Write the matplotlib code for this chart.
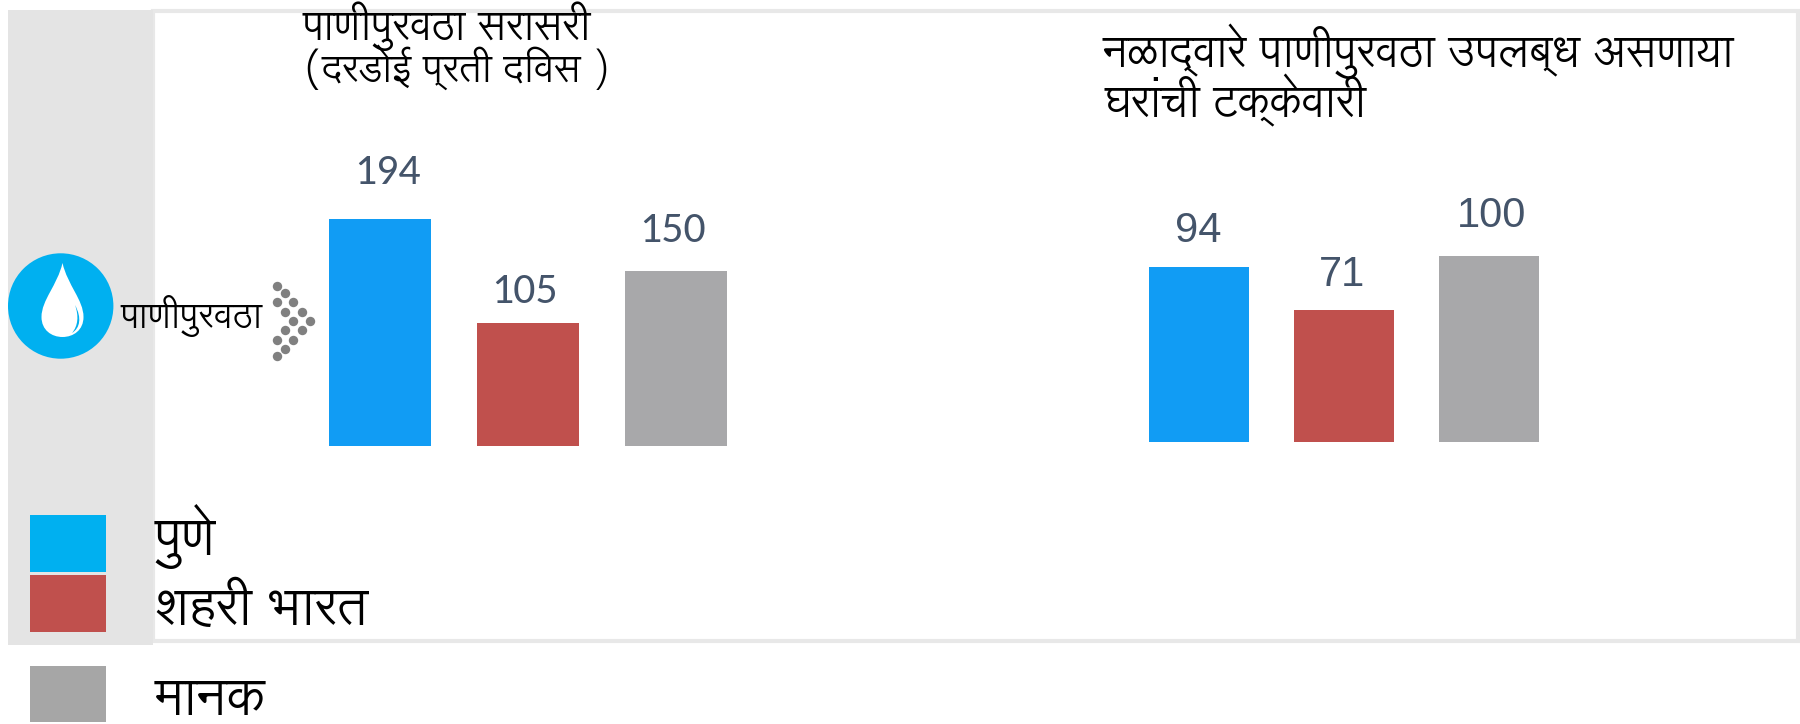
# -*-coding:utf-8-*-

import matplotlib
matplotlib.use("Agg")
import matplotlib.pyplot as plt
from matplotlib.patches import Circle, PathPatch, Rectangle
from matplotlib.path import Path

W = 1800
H = 724

cities = ["पुणे", "शहरी भारत", "मानक"]
supply_values = [194, 105, 150]
piped_values = [94, 71, 100]

supply_title = ["पाणीपुरवठा सरासरी", "(दरडोई प्रती दिवस )"]
piped_title = ["नळाद्वारे पाणीपुरवठा उपलब्ध असणाया", "घरांची टक्केवारी"]
row_label = "पाणीपुरवठा"

bar_colors = ["#119CF4", "#C0504D", "#A8A8AA"]
legend_colors = ["#00B0F0", "#C0504D", "#A6A6A6"]
label_color = "#44546A"
dev_font = ["Lohit Devanagari", "Noto Sans Devanagari", "DejaVu Sans"]


def axes_at(fig, left, right, top, bottom):
    """make an axes from pixel edges, y counted from the top of the picture"""
    ax = fig.add_axes([left / W, 1 - bottom / H, (right - left) / W, (bottom - top) / H])
    ax.axis("off")
    return ax


def bars(fig, values, left, right, bottom, scale, ymax, offsets, font, size):
    ax = axes_at(fig, left, right, bottom - ymax * scale, bottom)
    ax.patch.set_alpha(0)
    ax.bar(range(3), values, width=0.688, color=bar_colors)
    ax.set_xlim(-0.344, 2.344)
    ax.set_ylim(0, ymax)
    for i, v in enumerate(values):
        ax.annotate(str(v), (i, v), xytext=offsets[i], textcoords="offset pixels",
                    ha="center", va="baseline", color=label_color,
                    family=font, fontsize=size)
    return ax


def drop(ax):
    # white drop of the water icon
    cx = 62.5
    verts = [(cx, 263), (cx + 5, 285), (cx + 21, 300), (cx + 21, 317),
             (cx + 21, 330), (cx + 11, 337), (cx, 337),
             (cx - 11, 337), (cx - 21, 330), (cx - 21, 317),
             (cx - 21, 300), (cx - 5, 285), (cx, 263)]
    codes = [Path.MOVETO] + [Path.CURVE4] * 12
    ax.add_patch(PathPatch(Path(verts, codes), facecolor="white", edgecolor="none"))
    shine = [(75, 305), (82, 318), (80, 328), (72, 333),
             (78, 326), (79, 316), (75, 305)]
    codes = [Path.MOVETO] + [Path.CURVE4] * 6
    ax.add_patch(PathPatch(Path(shine, codes), facecolor="#00B0F0", edgecolor="none"))


fig = plt.figure(figsize=(W / 100, H / 100), dpi=100)
fig.patch.set_facecolor("white")

back = axes_at(fig, 0, W, 0, H)
back.set_xlim(0, W)
back.set_ylim(H, 0)

# frame and grey band on the left
back.add_patch(Rectangle((153, 11), 1644.5, 630, facecolor="white", edgecolor="#E8E8E8", linewidth=3))
back.add_patch(Rectangle((8, 9.5), 145, 635.5, facecolor="#E4E4E4", edgecolor="none"))

back.add_patch(Circle((60.7, 306), 52.7, facecolor="#00B0F0", edgecolor="none"))
drop(back)

# dotted arrow
dots_x = [277, 285, 293, 302, 310, 302, 293, 285, 277, 277, 285, 293, 285, 277]
dots_y = [286, 293, 302, 312, 321, 330, 340, 349, 356, 302, 312, 321, 330, 340]
back.scatter(dots_x, dots_y, s=46, color="#808080", linewidths=0)

back.text(120, 328, row_label, family=dev_font, fontsize=25.5, va="baseline", color="black")

back.text(302, 40, supply_title[0], family=dev_font, fontsize=29.3, va="baseline", color="black")
back.text(304, 82, supply_title[1], family=dev_font, fontsize=27.5, va="baseline", color="black")
back.text(1103, 67, piped_title[0], family=dev_font, fontsize=31.5, va="baseline", color="black")
back.text(1105, 117, piped_title[1], family=dev_font, fontsize=31.5, va="baseline", color="black")

# legend
swatch_top = [515, 575, 666]
swatch_bottom = [571.7, 632, 721.7]
text_y = [555, 625, 715]
for i in range(3):
    back.add_patch(Rectangle((30, swatch_top[i]), 76, swatch_bottom[i] - swatch_top[i],
                             facecolor=legend_colors[i], edgecolor="none"))
    back.text(155, text_y[i], cities[i], family=dev_font, fontsize=37.5, va="baseline", color="black")

bars(fig, supply_values, 329, 726.5, 446, 1.17, 200,
     [(8, 35), (-3, 20), (-3.5, 28)], ["Carlito", "DejaVu Sans"], 31.5)
bars(fig, piped_values, 1148.7, 1539, 441.7, 1.86, 105,
     [(-0.7, 25), (-1.5, 24), (3, 29)], ["Liberation Sans", "DejaVu Sans"], 30)

fig.savefig("out.png", dpi=100)
